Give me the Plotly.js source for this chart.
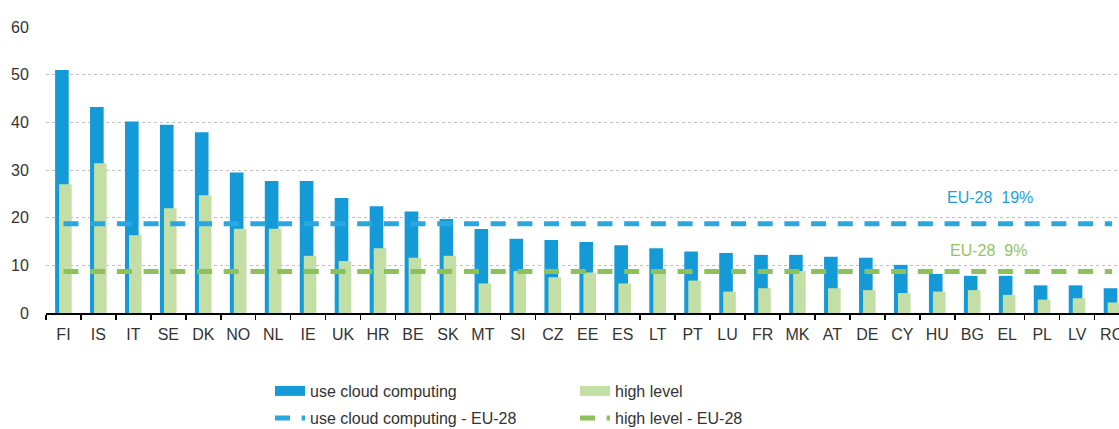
<!DOCTYPE html>
<html>
<head>
<meta charset="utf-8">
<script src="https://cdn.plot.ly/plotly-3.0.1.min.js"></script>
<style>
  html, body { margin: 0; padding: 0; background: #ffffff; }
  #chart { width: 1119px; height: 429px; }
</style>
</head>
<body>
<div id="chart"></div>
<script>
// ---- data ----
var countries = ['FI','IS','IT','SE','DK','NO','NL','IE','UK','HR','BE','SK','MT','SI','CZ','EE','ES','LT','PT','LU','FR','MK','AT','DE','CY','HU','BG','EL','PL','LV','RO'];
var useCloud  = [51, 43.2, 40.2, 39.5, 37.9, 29.5, 27.7, 27.7, 24.1, 22.4, 21.3, 19.7, 17.6, 15.6, 15.3, 14.9, 14.2, 13.6, 12.9, 12.6, 12.2, 12.2, 11.8, 11.6, 10.1, 8.2, 7.8, 7.8, 5.8, 5.8, 5.2];
var highLevel = [27, 31.4, 16.3, 22, 24.7, 17.7, 17.7, 12, 10.9, 13.6, 11.6, 12, 6.2, 8.8, 7.5, 8.5, 6.2, 8.8, 6.8, 4.5, 5.2, 8.8, 5.2, 4.8, 4.2, 4.5, 4.8, 3.8, 2.8, 3.1, 2.2];
var euCloud = 18.7;
var euHigh = 8.7;
var euCloudLabel = 'EU-28  19%';
var euHighLabel = 'EU-28  9%';
var seriesNames = ['use cloud computing', 'high level', 'use cloud computing - EU-28', 'high level - EU-28'];
var yTicks = [0, 10, 20, 30, 40, 50, 60];

// ---- styles ----
var FONT = '"Liberation Sans", Arial, sans-serif';
var TXT = '#333333';
var BLUE = '#149BD7', GREEN = '#C4DFA5', BLUE_DASH = '#2AA6E0', GREEN_DASH = '#8DC25A';

var traces = [
  { type: 'bar', x: countries, y: useCloud, name: seriesNames[0], marker: { color: BLUE }, offset: -0.24, width: 0.39, showlegend: false, hoverinfo: 'x+y' },
  { type: 'bar', x: countries, y: highLevel, name: seriesNames[1], marker: { color: GREEN }, offset: -0.125, width: 0.36, showlegend: false, hoverinfo: 'x+y' },
  // legend swatches for the bar series
  { type: 'scatter', mode: 'lines', x: [null], y: [null], name: seriesNames[0], legend: 'legend', line: { color: BLUE, width: 11 }, hoverinfo: 'skip' },
  { type: 'scatter', mode: 'lines', x: [null], y: [null], name: seriesNames[1], legend: 'legend2', line: { color: GREEN, width: 11 }, hoverinfo: 'skip' },
  { type: 'scatter', mode: 'lines', x: countries, y: countries.map(function(){ return euCloud; }), name: seriesNames[2], legend: 'legend3', line: { color: BLUE_DASH, width: 5, dash: '15px,11.7px' }, hoverinfo: 'skip' },
  { type: 'scatter', mode: 'lines', x: countries, y: countries.map(function(){ return euHigh; }), name: seriesNames[3], legend: 'legend4', line: { color: GREEN_DASH, width: 5, dash: '15px,11.7px' }, hoverinfo: 'skip' }
];

function leg(xpx, ypx) {
  // positions given in pixels, converted to paper coordinates
  return {
    x: (xpx - 46) / 1073, xanchor: 'left',
    y: (313 - ypx) / 286, yanchor: 'middle',
    orientation: 'v', bgcolor: 'rgba(0,0,0,0)', borderwidth: 0,
    font: { family: FONT, size: 16, color: TXT }
  };
}

var layout = {
  width: 1119, height: 429,
  margin: { l: 46, r: 0, t: 27, b: 116, pad: 0, autoexpand: false },
  paper_bgcolor: '#ffffff', plot_bgcolor: '#ffffff',
  font: { family: FONT, size: 16, color: TXT },
  barmode: 'overlay',
  showlegend: true,
  legend: leg(270, 391),
  legend2: leg(575, 391),
  legend3: leg(270, 418),
  legend4: leg(575, 418),
  xaxis: {
    type: 'category', categoryorder: 'array', categoryarray: countries,
    range: [-0.5, 30.198],
    showline: true, linecolor: '#000000', linewidth: 1.5,
    ticks: 'outside', tickson: 'boundaries', ticklen: 5, tickcolor: '#000000', tickwidth: 1.5,
    ticklabelstandoff: 6,
    showgrid: false, zeroline: false, tickangle: 0, automargin: false,
    tickfont: { family: FONT, size: 16, color: TXT }
  },
  yaxis: {
    range: [0, 60], tickvals: yTicks, ticktext: yTicks.map(String),
    showline: false, zeroline: false, automargin: false,
    showgrid: true, gridcolor: '#c0c0c0', gridwidth: 1, griddash: 'dot',
    ticks: 'outside', ticklen: 13, tickcolor: 'rgba(0,0,0,0)',
    tickfont: { family: FONT, size: 16, color: TXT }
  },
  annotations: [
    { xref: 'x', yref: 'y', x: 26.5, y: 24.3, text: euCloudLabel, showarrow: false, font: { family: FONT, size: 16, color: '#1E9FDA' } },
    { xref: 'x', yref: 'y', x: 26.46, y: 13.1, text: euHighLabel, showarrow: false, font: { family: FONT, size: 16, color: '#93C462' } }
  ]
};

Plotly.newPlot('chart', traces, layout, { staticPlot: true, displayModeBar: false });
</script>
</body>
</html>
